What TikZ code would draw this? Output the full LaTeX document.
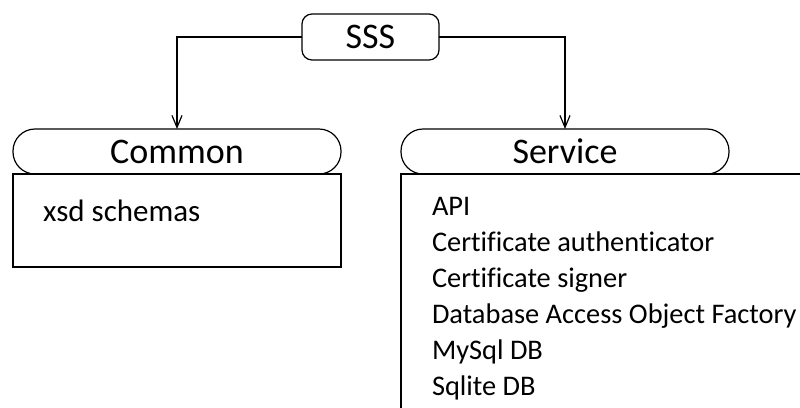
\documentclass[tikz,border=0pt]{standalone}
\usepackage{fontspec}
\setmainfont{Carlito}[Ligatures=NoCommon]
\usetikzlibrary{arrows.meta}
\begin{document}
\begin{tikzpicture}[x=1pt,y=-1pt,
  every node/.style={inner sep=0pt, outer sep=0pt},
  pill/.style={draw, line width=1.2pt, rounded corners=22pt, minimum width=328pt, minimum height=45pt, font=\fontsize{36}{40}\selectfont},
  topbox/.style={draw, line width=1.2pt, rounded corners=10pt, minimum width=137pt, minimum height=46pt, font=\fontsize{36}{40}\selectfont},
  body/.style={draw, line width=1.2pt, anchor=north west},
  item/.style={anchor=base west, font=\fontsize{28.4}{34}\selectfont},
  link/.style={line width=1.2pt, -{Straight Barb[length=12pt,width=10pt,line width=1.2pt]}}
]
\useasboundingbox (0,0) rectangle (800,407);
\clip (0,0) rectangle (800,407);

% top package
\node[topbox] (sss) at (370.5,37) {SSS};

% Common package: body then header
\node[body, minimum width=328pt, minimum height=93pt] (commonbody) at (13,174) {};
\node[pill] (common) at (177,151.5) {Common};
\node[item, font=\fontsize{31}{36}\selectfont] (xsd) at (43,221) {xsd schemas};

% Service package: body runs past the edge of the page
\node[body, minimum width=420pt, minimum height=260pt] (servicebody) at (401,174) {};
\node[pill] (service) at (565,151.5) {Service};
\node[item] (api)  at (432,215.7) {API};
\node[item] (auth) at (432,251.7) {Certificate authenticator};
\node[item] (sign) at (432,287.7) {Certificate signer};
\node[item] (dao)  at (432,323.7) {Database Access Object Factory};
\node[item] (mysql) at (432,359.7) {MySql DB};
\node[item] (sqlite) at (432,395.7) {Sqlite DB};

% dependencies
\draw[link] (sss.west) -| (common.north);
\draw[link] (sss.east) -| (service.north);
\end{tikzpicture}
\end{document}
